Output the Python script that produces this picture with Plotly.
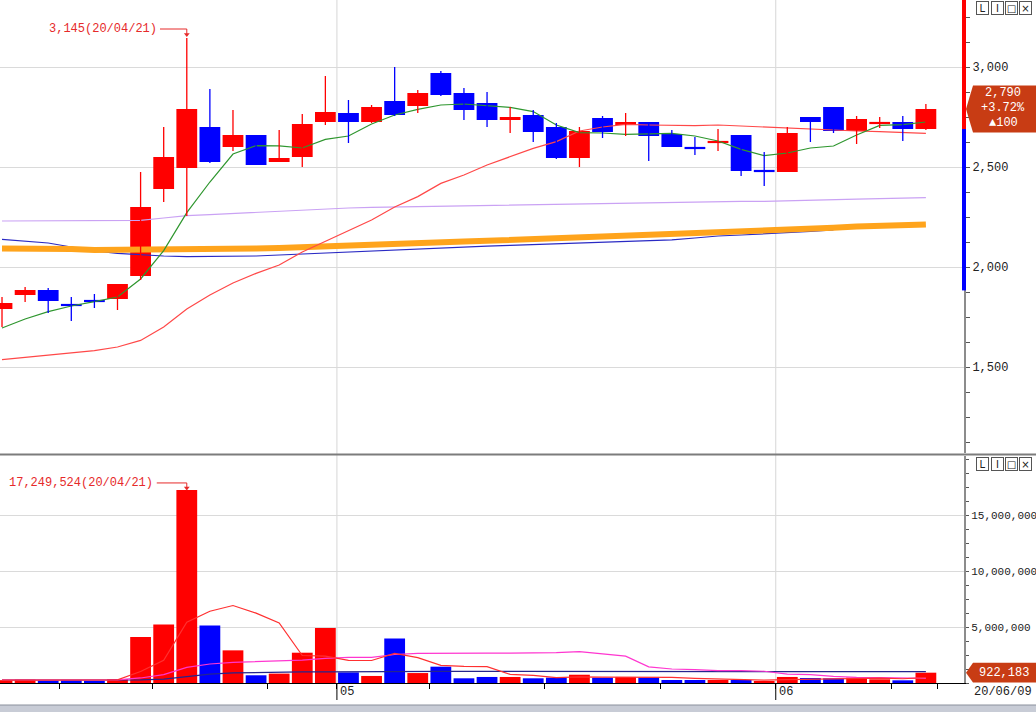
import plotly.graph_objects as go
from datetime import date

# ---------------- data ----------------
dates = ["2020-04-08", "2020-04-09", "2020-04-10", "2020-04-13", "2020-04-14", "2020-04-16",
         "2020-04-17", "2020-04-20", "2020-04-21", "2020-04-22", "2020-04-23", "2020-04-24",
         "2020-04-27", "2020-04-28", "2020-04-29", "2020-05-04", "2020-05-06", "2020-05-07",
         "2020-05-08", "2020-05-11", "2020-05-12", "2020-05-13", "2020-05-14", "2020-05-15",
         "2020-05-18", "2020-05-19", "2020-05-20", "2020-05-21", "2020-05-22", "2020-05-25",
         "2020-05-26", "2020-05-27", "2020-05-28", "2020-05-29", "2020-06-01", "2020-06-02",
         "2020-06-03", "2020-06-04", "2020-06-05", "2020-06-08", "2020-06-09"]

opens = [1790, 1860, 1885, 1815, 1835, 1840, 1955, 2390, 2495, 2700, 2600, 2660, 2525, 2550,
         2725, 2770, 2725, 2830, 2805, 2970, 2870, 2820, 2735, 2760, 2700, 2545, 2745, 2710,
         2725, 2665, 2600, 2620, 2660, 2485, 2475, 2750, 2800, 2680, 2715, 2725, 2690]
highs = [1850, 1900, 1895, 1850, 1865, 1915, 2475, 2700, 3145, 2890, 2785, 2660, 2685, 2765,
         2955, 2835, 2810, 3000, 2885, 2980, 2895, 2875, 2800, 2785, 2720, 2700, 2755, 2770,
         2725, 2685, 2650, 2690, 2660, 2575, 2700, 2750, 2800, 2755, 2750, 2755, 2815]
lows = [1700, 1825, 1770, 1730, 1795, 1785, 1935, 2325, 2255, 2520, 2580, 2510, 2525, 2500,
        2710, 2620, 2720, 2755, 2770, 2855, 2735, 2700, 2670, 2625, 2540, 2500, 2645, 2655,
        2530, 2600, 2560, 2580, 2455, 2405, 2475, 2625, 2670, 2615, 2695, 2630, 2685]
closes = [1820, 1885, 1830, 1805, 1825, 1915, 2300, 2550, 2790, 2525, 2660, 2510, 2545, 2715,
          2775, 2725, 2800, 2760, 2870, 2860, 2785, 2735, 2750, 2675, 2545, 2680, 2675, 2725,
          2655, 2600, 2590, 2630, 2480, 2475, 2670, 2725, 2680, 2740, 2725, 2690, 2790]

volumes = [250000, 300000, 220000, 260000, 200000, 350000, 4110000, 5240000, 17249524,
           5150000, 2920000, 690000, 840000, 2710000, 4910000, 950000, 630000, 3990000,
           890000, 1460000, 420000, 540000, 540000, 420000, 480000, 740000, 480000, 540000,
           480000, 270000, 270000, 270000, 270000, 180000, 540000, 450000, 420000, 480000,
           330000, 240000, 922183]
vol_dir = ["R", "R", "B", "B", "B", "R", "R", "R", "R", "B", "R", "B", "R", "R", "R", "B",
           "R", "B", "R", "B", "B", "B", "R", "B", "B", "R", "B", "R", "B", "B", "B", "R",
           "B", "R", "R", "B", "B", "R", "R", "B", "R"]

# moving averages
ma5 = [1695, 1740, 1777, 1805, 1827, 1850, 1940, 2082, 2272, 2425, 2565, 2607, 2606, 2595,
       2638, 2655, 2715, 2760, 2788, 2810, 2815, 2805, 2798, 2777, 2710, 2672, 2670, 2663,
       2665, 2668, 2655, 2630, 2588, 2557, 2570, 2595, 2605, 2660, 2708, 2712, 2725]
ma20 = [1537, 1548, 1560, 1570, 1582, 1600, 1633, 1700, 1790, 1860, 1920, 1968, 2010, 2075,
        2127, 2180, 2235, 2300, 2352, 2418, 2460, 2510, 2552, 2593, 2627, 2680, 2700, 2713,
        2710, 2707, 2707, 2710, 2705, 2697, 2692, 2688, 2685, 2680, 2677, 2672, 2668]
ma60 = [2230, 2230, 2230, 2230, 2230, 2230, 2233, 2245, 2257, 2262, 2268, 2273, 2278, 2283,
        2290, 2295, 2298, 2300, 2302, 2305, 2307, 2309, 2311, 2313, 2315, 2317, 2319, 2321,
        2322, 2324, 2326, 2327, 2328, 2328, 2330, 2333, 2336, 2339, 2342, 2345, 2347]
ma120 = [2093, 2093, 2093, 2090, 2085, 2085, 2085, 2085, 2087, 2087, 2088, 2092, 2095, 2100,
         2105, 2110, 2115, 2118, 2122, 2125, 2128, 2131, 2135, 2138, 2142, 2146, 2150, 2155,
         2160, 2164, 2168, 2172, 2176, 2180, 2184, 2190, 2196, 2202, 2206, 2210, 2213]
ma240 = [2138, 2128, 2120, 2100, 2080, 2068, 2060, 2055, 2052, 2052, 2053, 2055, 2060, 2065,
         2072, 2077, 2082, 2087, 2092, 2097, 2100, 2104, 2108, 2112, 2116, 2120, 2125, 2128,
         2132, 2136, 2145, 2155, 2160, 2165, 2170, 2178, 2185]

vma5 = [260000, 260000, 255000, 260000, 250000, 280000, 1030000, 2030000, 5430000, 6420000,
        6930000, 6250000, 5370000, 2460000, 2410000, 2020000, 2010000, 2640000, 2270000,
        1580000, 1480000, 1460000, 770000, 680000, 480000, 540000, 530000, 540000, 550000,
        500000, 410000, 370000, 310000, 250000, 310000, 340000, 370000, 410000, 440000,
        380000, 480000]
vma20 = [270000, 270000, 270000, 270000, 270000, 280000, 450000, 750000, 1400000, 1700000,
         1850000, 1900000, 1950000, 2050000, 2200000, 2300000, 2300000, 2550000, 2650000,
         2680000, 2680000, 2680000, 2680000, 2690000, 2720000, 2800000, 2600000, 2400000,
         1450000, 1250000, 1200000, 1100000, 1100000, 1050000, 800000, 750000, 600000,
         500000, 480000, 440000, 420000]
vma60 = [270000, 270000, 270000, 270000, 270000, 270000, 280000, 350000, 600000, 800000,
         900000, 950000, 980000, 990000, 1000000, 1020000, 1030000, 1040000, 1040000,
         1040000, 1040000, 1040000, 1040000, 1040000, 1040000, 1040000, 1040000, 1040000,
         1040000, 1040000, 1040000, 1040000, 1040000, 1040000, 1040000, 1040000, 1030000,
         1020000, 1020000, 1010000, 1010000]

price_ticks = [1500, 2000, 2500, 3000]
vol_ticks = [5000000, 10000000, 15000000]

# ---------------- styling ----------------
UP, DN = "#ff0000", "#0000ff"
FONT = "Liberation Mono, DejaVu Sans Mono, monospace"
W, H = 1036, 712
ML, MR, MT, MB = 0, 72, 0, 29
PW, PH = W - ML - MR, H - MT - MB          # plot area in px
def py(ypx):                               # pixel row -> paper y
    return 1 - ypx / PH
def px(xpx):                               # pixel column -> paper x
    return xpx / PW

n = len(dates)
xs = list(range(n))
dts = [date.fromisoformat(d) for d in dates]
X_RANGE = [-0.087, 41.65]
P_RANGE = [1070, 3335]
V_RANGE = [0, 20300000]

fig = go.Figure()

# ---- price moving averages (drawn behind candles) ----
for vals, color, width in [(ma240, "#2a2ac4", 1.2), (ma120, "#ffa41c", 6),
                           (ma60, "#caa2f4", 1.2), (ma20, "#ff4848", 1.2),
                           (ma5, "#2e962e", 1.2)]:
    fig.add_trace(go.Scatter(x=xs[:len(vals)], y=vals, mode="lines",
                             line=dict(color=color, width=width),
                             xaxis="x", yaxis="y", hoverinfo="skip"))

# ---- candles: wicks ----
for up in (True, False):
    wx, wy = [], []
    for i in xs:
        if (closes[i] >= opens[i]) == up:
            wx += [i, i, None]
            wy += [lows[i], highs[i], None]
    fig.add_trace(go.Scatter(x=wx, y=wy, mode="lines",
                             line=dict(color=UP if up else DN, width=1.3),
                             xaxis="x", yaxis="y", hoverinfo="skip"))

# ---- candles: bodies ----
MIN_BODY = 11
body_h = [max(abs(c - o), MIN_BODY) for o, c in zip(opens, closes)]
body_b = [min(o, c) - (h - abs(c - o)) / 2 for o, c, h in zip(opens, closes, body_h)]
body_c = [UP if c >= o else DN for o, c in zip(opens, closes)]
fig.add_trace(go.Bar(x=xs, y=body_h, base=body_b, width=0.9,
                     marker=dict(color=body_c, line=dict(width=0)),
                     xaxis="x", yaxis="y", hoverinfo="skip"))

# ---- volume bars ----
fig.add_trace(go.Bar(x=xs, y=volumes, width=0.9,
                     marker=dict(color=[UP if d == "R" else DN for d in vol_dir],
                                 line=dict(width=0)),
                     xaxis="x2", yaxis="y2", hoverinfo="skip"))
for vals, color in [(vma60, "#25258e"), (vma20, "#ff36d0"), (vma5, "#ff3030")]:
    fig.add_trace(go.Scatter(x=xs, y=vals, mode="lines", line=dict(color=color, width=1.2),
                             xaxis="x2", yaxis="y2", hoverinfo="skip"))

# ---- max markers (price and volume) ----
def dlabel(d):
    return d.strftime("%y/%m/%d")

ip = highs.index(max(highs))
iv = volumes.index(max(volumes))
RED_TXT = "#e62a2a"
p_txt_y = highs[ip] + 45
fig.add_trace(go.Scatter(x=[ip - 1.16, ip, ip], y=[p_txt_y, p_txt_y, highs[ip] + 12],
                         mode="lines", line=dict(color=RED_TXT, width=1),
                         xaxis="x", yaxis="y", hoverinfo="skip"))
fig.add_trace(go.Scatter(x=[ip], y=[highs[ip] + 18], mode="markers",
                         marker=dict(symbol="triangle-down", size=5, color=RED_TXT),
                         xaxis="x", yaxis="y", hoverinfo="skip"))
v_txt_y = volumes[iv] + 640000
fig.add_trace(go.Scatter(x=[iv - 1.3, iv, iv], y=[v_txt_y, v_txt_y, volumes[iv] + 100000],
                         mode="lines", line=dict(color=RED_TXT, width=1),
                         xaxis="x2", yaxis="y2", hoverinfo="skip"))
fig.add_trace(go.Scatter(x=[iv], y=[volumes[iv] + 180000], mode="markers",
                         marker=dict(symbol="triangle-down", size=5, color=RED_TXT),
                         xaxis="x2", yaxis="y2", hoverinfo="skip"))

annotations = [
    dict(x=ip - 1.2, y=p_txt_y, xref="x", yref="y", xanchor="right", yanchor="middle",
         text=f"{highs[ip]:,}({dlabel(dts[ip])})", showarrow=False,
         font=dict(family=FONT, size=12, color=RED_TXT)),
    dict(x=iv - 1.36, y=v_txt_y, xref="x2", yref="y2", xanchor="right", yanchor="middle",
         text=f"{volumes[iv]:,}({dlabel(dts[iv])})", showarrow=False,
         font=dict(family=FONT, size=12, color=RED_TXT)),
]

# ---- shapes ----
shapes = []
# month separators + week ticks
month_starts = [i for i in range(1, n) if dts[i].month != dts[i - 1].month]
week_starts = [i for i in range(1, n)
               if dts[i].isocalendar()[1] != dts[i - 1].isocalendar()[1]]
for i in month_starts:
    shapes.append(dict(type="line", xref="x", yref="paper", x0=i - 0.5, x1=i - 0.5,
                       y0=0, y1=1, line=dict(color="#d6d6d6", width=1), layer="below"))
    shapes.append(dict(type="line", xref="x", yref="paper", x0=i - 0.5, x1=i - 0.5,
                       y0=py(683), y1=py(700), line=dict(color="#000000", width=1)))
    annotations.append(dict(x=i - 0.5, y=py(692), xref="x", yref="paper", xanchor="left",
                            yanchor="middle", xshift=1, text=dts[i].strftime("%m"),
                            showarrow=False, font=dict(family=FONT, size=12, color="#222")))
annotations.append(dict(x=px(1003), y=py(692), xref="paper", yref="paper",
                        xanchor="center", yanchor="middle", text=dlabel(dts[-1]),
                        showarrow=False, font=dict(family=FONT, size=12, color="#222")))

# panel separator
shapes.append(dict(type="line", xref="paper", yref="paper", x0=-0.01, x1=1.1,
                   y0=py(454.5), y1=py(454.5), line=dict(color="#7c7c7c", width=2)))
# bottom window bar
shapes.append(dict(type="rect", xref="paper", yref="paper", x0=-0.01, x1=1.1,
                   y0=py(705), y1=py(720), fillcolor="#c8ccd6", line=dict(width=0)))
shapes.append(dict(type="line", xref="paper", yref="paper", x0=-0.01, x1=1.1,
                   y0=py(705), y1=py(705), line=dict(color="#8a909c", width=1)))

# right axis colour band (prev close split; down to lower price limit)
prev_close = closes[-2]
lower_limit = round(prev_close * 0.7)
shapes.append(dict(type="line", xref="paper", yref="y", x0=1.0, x1=1.0,
                   y0=prev_close, y1=P_RANGE[1], line=dict(color="#ff0000", width=4)))
shapes.append(dict(type="line", xref="paper", yref="y", x0=1.0, x1=1.0,
                   y0=lower_limit, y1=prev_close, line=dict(color="#0000ff", width=4)))

# current price badge
BADGE = "#c83c14"
last = closes[-1]
chg = last - prev_close
pct = chg / prev_close * 100
half_p = 118
shapes.append(dict(type="path", xref="paper", yref="y", fillcolor=BADGE,
                   line=dict(width=0),
                   path=(f"M {px(966)},{last} L {px(973)},{last + half_p} L {px(1037)},{last + half_p} "
                         f"L {px(1037)},{last - half_p} L {px(973)},{last - half_p} Z")))
for k, t in enumerate([f"{last:,}", f"{'+' if chg >= 0 else ''}{pct:.2f}%",
                       f"{'▲' if chg >= 0 else '▼'}{abs(chg)}"]):
    annotations.append(dict(x=px(1003), y=py(93 + 15 * k), xref="paper", yref="paper",
                            xanchor="center", yanchor="middle", text=t, showarrow=False,
                            font=dict(family=FONT, size=12, color="#ffffff")))

# last volume badge
lv = volumes[-1]
half_v = 880000
shapes.append(dict(type="path", xref="paper", yref="y2", fillcolor=BADGE,
                   line=dict(width=0),
                   path=(f"M {px(966)},{lv} L {px(973)},{lv + half_v} L {px(1037)},{lv + half_v} "
                         f"L {px(1037)},{lv - half_v} L {px(973)},{lv - half_v} Z")))
annotations.append(dict(x=px(1004), y=lv, xref="paper", yref="y2", xanchor="center",
                        yanchor="middle", text=f"{lv:,}", showarrow=False,
                        font=dict(family=FONT, size=12, color="#ffffff")))

# window icons (L I □ X) in each panel
for ytop in (1, 457):
    for k, ch in enumerate(["L", "I", "□", "×"]):
        annotations.append(dict(x=px(983 + 14 * k), y=py(ytop + 7), xref="paper",
                                yref="paper", xanchor="center", yanchor="middle",
                                text=ch, showarrow=False, width=11, height=12,
                                bordercolor="#555", borderwidth=1, borderpad=0,
                                font=dict(family="DejaVu Sans", size=10, color="#222")))

axis_font = dict(family=FONT, size=12, color="#222")
vol_axis_font = dict(family=FONT, size=11, color="#222")
fig.update_layout(
    width=W, height=H, margin=dict(l=ML, r=MR, t=MT, b=MB, pad=0, autoexpand=False),
    paper_bgcolor="#ffffff", plot_bgcolor="#ffffff", showlegend=False,
    xaxis=dict(domain=[0, 1], range=X_RANGE, anchor="y", showticklabels=False,
               showgrid=False, zeroline=False, ticks="", automargin=False),
    xaxis2=dict(domain=[0, 1], range=X_RANGE, anchor="y2", showticklabels=False,
                showgrid=False, zeroline=False, tickmode="array",
                tickvals=[i - 0.5 for i in week_starts] + [n - 0.5],
                ticks="outside", ticklen=5, tickcolor="#000", showline=True,
                linecolor="#000", linewidth=1, automargin=False),
    yaxis=dict(domain=[py(453), 1], range=P_RANGE, anchor="x", side="right",
               tickmode="array", tickvals=price_ticks,
               ticktext=[f"{v:,}" for v in price_ticks], tickfont=axis_font,
               ticks="outside", ticklen=4, tickcolor="#555",
               minor=dict(tickmode="linear", tick0=0, dtick=125, ticks="outside",
                          ticklen=4, tickcolor="#555", showgrid=False),
               showgrid=True, gridcolor="#dadada", gridwidth=1, zeroline=False,
               showline=True, linecolor="#8c8c8c", linewidth=2, automargin=False),
    yaxis2=dict(domain=[0, py(456)], range=V_RANGE, anchor="x2", side="right",
                tickmode="array", tickvals=vol_ticks,
                ticktext=[f"{v:,}" for v in vol_ticks], tickfont=vol_axis_font,
                ticks="outside", ticklen=3, tickcolor="#555", ticklabelstandoff=0,
                minor=dict(tickmode="linear", tick0=0, dtick=1250000, ticks="outside",
                           ticklen=3, tickcolor="#555", showgrid=False),
                showgrid=True, gridcolor="#dadada", gridwidth=1, zeroline=False,
                showline=True, linecolor="#8c8c8c", linewidth=2, automargin=False),
    shapes=shapes, annotations=annotations,
)

# page has a default 8px body margin; remove it so the chart fills the window exactly
fig.write_html("out.html", config={"displayModeBar": False},
               post_script="document.body.style.margin='0';document.body.style.overflow='hidden';")
